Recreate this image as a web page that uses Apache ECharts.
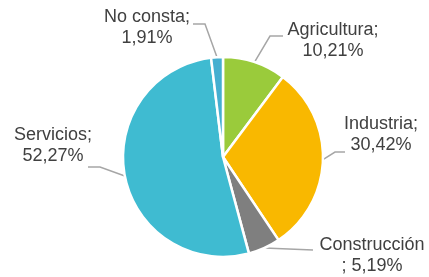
<!DOCTYPE html>
<html>
<head>
<meta charset="utf-8">
<script src="https://cdn.jsdelivr.net/npm/echarts@6/dist/echarts.min.js"></script>
<style>
  html, body { margin: 0; padding: 0; background: #fff; }
  #chart { width: 429px; height: 277px; }
</style>
</head>
<body>
<div id="chart"></div>
<script>
  // sectores, en el orden del gráfico (sentido horario desde arriba)
  var sectores = ['Agricultura', 'Industria', 'Construcción', 'Servicios', 'No consta']
  var porcentajes = [10.21, 30.42, 5.19, 52.27, 1.91]
  var etiquetas = ['Agricultura;\n10,21%', 'Industria;\n30,42%', 'Construcción\n; 5,19%', 'Servicios;\n52,27%', 'No consta;\n1,91%']
  var colores = ['#9acb3b', '#f9b800', '#7f7f7f', '#3fbbd1', '#45afd0']

  // centro de cada etiqueta (px)
  var posEtiquetas = [[333, 41], [381, 135], [372, 256], [53, 146], [147, 28]]
  // fin de la linea guia respecto al centro de la etiqueta, y codo horizontal
  var finLinea = [[-50, -5], [-36, 17], [-59, -6], [35, 21], [46, -4]]
  var codo = [-13, -10, null, 12, 12]

  var myChart = echarts.init(document.getElementById('chart'))
  var arr = []
  for (var i in sectores) {
    arr.push({
      name: sectores[i],
      value: porcentajes[i],
      itemStyle: { color: colores[i] }
    })
  }
  var option = {
    animation: false,
    series: [
      {
        type: 'pie',
        radius: [0, 100],
        center: [223, 157],
        startAngle: 90,
        clockwise: true,
        itemStyle: {
          borderColor: '#fff',
          borderWidth: 2.5
        },
        label: {
          show: true,
          formatter: function (p) { return etiquetas[p.dataIndex] },
          color: '#404040',
          fontFamily: 'Liberation Sans, Arial, sans-serif',
          fontSize: 18,
          lineHeight: 21,
          align: 'center',
          overflow: 'none'
        },
        labelLine: {
          show: true,
          length: 12,
          length2: 10,
          lineStyle: { color: '#a6a6a6', width: 1.5 }
        },
        labelLayout: function (params) {
          var k = params.dataIndex
          var p = posEtiquetas[k]
          var ancla = params.labelLinePoints ? params.labelLinePoints[0] : null
          var fin = [p[0] + finLinea[k][0], p[1] + finLinea[k][1]]
          var res = { x: p[0], y: p[1], align: 'center', verticalAlign: 'middle' }
          if (ancla) {
            var medio = codo[k] === null ? [ancla[0], ancla[1]] : [fin[0] + codo[k], fin[1]]
            res.labelLinePoints = [[ancla[0], ancla[1]], medio, fin]
          }
          return res
        },
        emphasis: { disabled: true },
        data: arr
      }
    ]
  }
  myChart.setOption(option)
</script>
</body>
</html>
